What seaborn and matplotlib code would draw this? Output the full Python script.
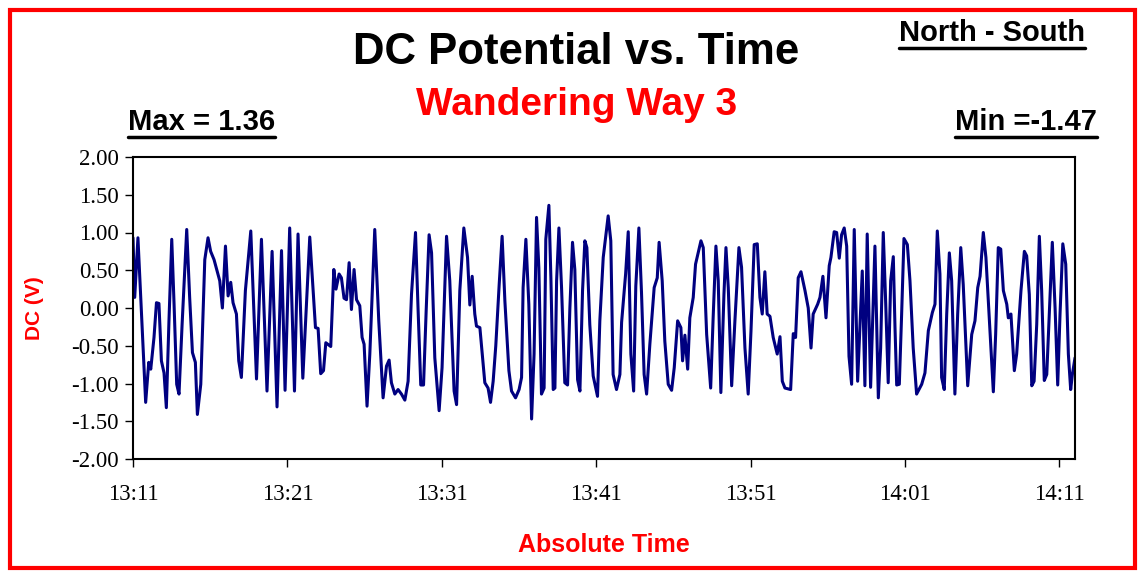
import pandas as pd
import matplotlib
matplotlib.use("Agg")
import matplotlib.pyplot as plt
import matplotlib.dates as mdates
import seaborn as sns
from matplotlib.patches import Rectangle
from matplotlib.lines import Line2D

# elapsed minutes after 13:11 and DC potential (V)
minutes = [
    0.00, 0.11, 0.32, 0.82, 1.02, 1.15, 1.36, 1.52, 1.68, 1.84, 2.01, 2.16, 2.33, 2.51, 2.66,
    2.83, 2.98, 3.18, 3.48, 3.67, 3.85, 4.04, 4.17, 4.39, 4.65, 4.86, 5.03, 5.25, 5.62, 5.79,
    5.99, 6.16, 6.33, 6.48, 6.70, 6.85, 7.02, 7.28, 7.63, 8.00, 8.32, 8.68, 9.01, 9.33, 9.62,
    9.85, 10.15, 10.46, 10.69, 11.00, 11.45, 11.66, 11.82, 11.99, 12.16, 12.34, 12.49, 12.81,
    13.01, 13.15, 13.35, 13.50, 13.67, 13.83, 14.00, 14.15, 14.32, 14.48, 14.69, 14.84, 14.97,
    15.16, 15.34, 15.66, 15.92, 16.20, 16.42, 16.59, 16.74, 16.96, 17.17, 17.39, 17.61, 17.82,
    18.04, 18.30, 18.47, 18.64, 18.82, 18.99, 19.18, 19.34, 19.55, 19.83, 20.02, 20.31, 20.52,
    20.80, 20.96, 21.17, 21.43, 21.67, 21.82, 21.97, 22.14, 22.25, 22.47, 22.62, 22.79, 23.00,
    23.16, 23.33, 23.50, 23.72, 23.91, 24.09, 24.35, 24.52, 24.78, 25.01, 25.17, 25.27, 25.45,
    25.64, 25.82, 25.98, 26.14, 26.29, 26.46, 26.63, 26.74, 26.94, 27.07, 27.22, 27.33, 27.44,
    27.59, 27.76, 27.97, 28.15, 28.30, 28.47, 28.62, 28.80, 28.95, 29.12, 29.27, 29.40, 29.59,
    29.81, 30.09, 30.24, 30.46, 30.78, 30.95, 31.10, 31.32, 31.54, 31.65, 31.91, 32.08, 32.25,
    32.43, 32.57, 32.77, 32.94, 33.11, 33.27, 33.48, 33.76, 33.96, 34.08, 34.28, 34.45, 34.67,
    34.89, 35.06, 35.28, 35.49, 35.60, 35.75, 35.93, 36.07, 36.29, 36.44, 36.79, 36.94, 37.16,
    37.42, 37.58, 37.76, 37.91, 38.08, 38.28, 38.41, 38.56, 38.78, 38.99, 39.25, 39.42, 39.64,
    39.85, 40.03, 40.24, 40.44, 40.61, 40.76, 40.93, 41.08, 41.26, 41.47, 41.73, 41.91, 42.06,
    42.23, 42.60, 42.77, 42.92, 43.09, 43.27, 43.53, 43.74, 43.92, 44.06, 44.35, 44.50, 44.69,
    44.89, 45.10, 45.21, 45.42, 45.58, 45.75, 45.90, 46.07, 46.23, 46.38, 46.55, 46.72, 46.94,
    47.24, 47.41, 47.56, 47.78, 48.06, 48.28, 48.43, 48.60, 48.76, 48.92, 49.08, 49.25, 49.36,
    49.47, 49.64, 49.79, 49.94, 50.16, 50.33, 50.54, 50.76, 51.09, 51.30, 51.52, 51.78, 51.95,
    52.10, 52.27, 52.38, 52.55, 52.71, 52.88, 53.03, 53.24, 53.42, 53.62, 53.78, 54.07, 54.33,
    54.54, 54.72, 54.87, 55.08, 55.25, 55.45, 55.73, 55.88, 56.05, 56.21, 56.38, 56.60, 56.70,
    56.87, 57.09, 57.24, 57.52, 57.74, 57.89, 58.06, 58.22, 58.37, 58.54, 58.71, 58.86, 59.03,
    59.19, 59.55, 59.73, 59.90, 60.05, 60.23, 60.42, 60.59, 60.74, 60.85, 61.02,
]
volts = [
    0.93, 0.14, 0.93, -1.25, -0.72, -0.81, -0.39, 0.07, 0.06, -0.70, -0.86, -1.32, -0.17, 0.91, 0.05,
    -1.01, -1.14, -0.22, 1.04, 0.14, -0.59, -0.72, -1.41, -1.01, 0.64, 0.93, 0.75, 0.64, 0.36, 0.00,
    0.82, 0.16, 0.34, 0.07, -0.08, -0.70, -0.92, 0.23, 1.02, -0.94, 0.91, -1.10, 0.75, -1.31, 0.76,
    -1.09, 1.06, -1.10, 0.98, -0.93, 0.94, 0.27, -0.26, -0.27, -0.87, -0.83, -0.46, -0.51,
    0.51, 0.25, 0.45, 0.40, 0.13, 0.11, 0.60, -0.02, 0.51, 0.11, 0.03, -0.39, -0.48,
    -1.30, -0.61, 1.04, -0.17, -1.19, -0.77, -0.69, -0.99, -1.14, -1.08, -1.14, -1.22, -0.97,
    0.18, 1.00, -0.04, -1.02, -1.02, -0.04, 0.97, 0.73, -0.66, -1.36, -0.79, 0.95, 0.36,
    -1.10, -1.28, 0.23, 1.06, 0.67, 0.04, 0.42, -0.08, -0.24, -0.26, -0.61, -0.99, -1.06,
    -1.25, -0.97, -0.50, 0.31, 0.95, 0.09, -0.83, -1.10, -1.19, -1.08, -0.92, 0.27, 0.91,
    0.05, -1.47, -0.61, 1.20, 0.53, -1.14, -1.06, 0.91, 1.36, 0.40, -1.08, -1.06, 0.36,
    1.06, 0.27, -0.99, -1.02, 0.00, 0.87, 0.51, -0.95, -1.10, 0.23, 0.89, 0.80, -0.22,
    -0.90, -1.17, -0.17, 0.67, 1.22, 0.89, -0.88, -1.08, -0.88, -0.19, 0.45, 1.01, -0.61,
    -1.10, 0.29, 1.06, 0.20, -0.88, -1.14, -0.48, 0.27, 0.40, 0.87, 0.36, -0.44, -1.01,
    -1.09, -0.79, -0.17, -0.26, -0.70, -0.36, -0.81, -0.13, 0.14, 0.58, 0.89, 0.80, -0.35,
    -1.06, -0.13, 0.82, 0.36, -1.12, 0.18, 0.80, 0.27, -1.03, -0.17, 0.80, 0.54, -0.53,
    -1.14, -0.31, 0.84, 0.85, 0.14, -0.08, 0.48, -0.08, -0.11, -0.39, -0.61, -0.38, -0.97,
    -1.06, -1.08, -0.34, -0.39, 0.40, 0.48, 0.23, 0.00, -0.53, -0.08, 0.05, 0.14, 0.42,
    -0.13, 0.56, 0.67, 1.01, 1.00, 0.66, 0.97, 1.06, 0.82, -0.64, -1.01, 1.04, -0.97,
    0.49, -1.03, 0.98, -1.05, 0.82, -1.19, -0.53, 1.00, 0.05, -0.99, 0.36, 0.68, -0.26,
    -1.02, -1.01, -0.08, 0.92, 0.84, 0.36, -0.53, -1.14, -1.01, -0.86, -0.30, -0.06, 0.05,
    1.02, 0.45, -0.92, -1.08, -0.08, 0.73, 0.36, -1.14, -0.08, 0.80, 0.31, -1.03, -0.35,
    -0.17, 0.27, 0.42, 1.00, 0.67, -0.08, -1.11, -0.35, 0.80, 0.78, 0.23, 0.05, -0.13,
    -0.08, -0.83, -0.61, 0.23, 0.75, 0.69, 0.18, -1.03, -0.97, -0.22, 0.95, 0.23, -0.96,
    -0.88, 0.87, 0.00, -1.02, -0.08, 0.85, 0.58, -0.61, -1.08, -0.88, -0.66,
]

start_time = "13:11"
y_ticks = [-2.0, -1.5, -1.0, -0.5, 0.0, 0.5, 1.0, 1.5, 2.0]

df = pd.DataFrame({
    "time": pd.Timestamp("2000-01-01 " + start_time) + pd.to_timedelta(minutes, unit="m"),
    "dc": volts,
})

sns.set_style("white")
plt.rcParams["font.family"] = ["Liberation Sans", "DejaVu Sans"]
plt.rcParams["text.color"] = "black"

fig = plt.figure(figsize=(11.38, 5.71), dpi=100)
ax = fig.add_axes([133 / 1138, 1 - 459 / 571, 942 / 1138, 302 / 571])

sns.lineplot(data=df, x="time", y="dc", ax=ax, color="#000080", linewidth=2.2)

ax.set_xlim(df["time"].iloc[0], df["time"].iloc[-1])
ax.set_ylim(-2, 2)
ax.set_yticks(y_ticks)
ax.yaxis.set_major_formatter(matplotlib.ticker.FormatStrFormatter("%.2f"))
ax.xaxis.set_major_locator(mdates.MinuteLocator(byminute=[1, 11, 21, 31, 41, 51]))
ax.xaxis.set_major_formatter(mdates.DateFormatter("%H:%M"))

for spine in ax.spines.values():
    spine.set_color("black")
    spine.set_linewidth(1.5)
ax.tick_params(axis="both", direction="out", length=6, width=1, color="black",
               labelcolor="black", labelsize=16.5, pad=4, bottom=True, left=True)
for lbl in ax.get_xticklabels() + ax.get_yticklabels():
    lbl.set_fontfamily(["Liberation Serif", "DejaVu Serif"])
ax.tick_params(axis="x", pad=12)

ax.set_xlabel("Absolute Time", color="red", fontsize=18, fontweight="bold", labelpad=20)
ax.set_ylabel("DC (V)", color="red", fontsize=15, fontweight="bold", labelpad=20)

# titles and corner notes
fig.text(576 / 1138, 1 - 53 / 571, "DC Potential vs. Time", ha="center", va="center",
         fontsize=31.5, fontweight="bold", color="black")
fig.text(577 / 1138, 1 - 105 / 571, "Wandering Way 3", ha="center", va="center",
         fontsize=28, fontweight="bold", color="red")
notes = [
    fig.text(1085 / 1138, 1 - 33 / 571, "North - South", ha="right", va="center",
             fontsize=21, fontweight="bold", color="black"),
    fig.text(128 / 1138, 1 - 122 / 571, "Max = 1.36", ha="left", va="center",
             fontsize=21, fontweight="bold", color="black"),
    fig.text(1097 / 1138, 1 - 122 / 571, "Min =-1.47", ha="right", va="center",
             fontsize=21, fontweight="bold", color="black"),
]

# red frame round the whole chart
fig.patches.append(Rectangle((10 / 1138, 3 / 571), 1125 / 1138, 558 / 571,
                             transform=fig.transFigure, fill=False,
                             edgecolor="red", linewidth=3))

# underline the corner notes
fig.canvas.draw()
renderer = fig.canvas.get_renderer()
inv = fig.transFigure.inverted()
for t in notes:
    bb = t.get_window_extent(renderer).transformed(inv)
    y = bb.y0 - 0.002
    fig.add_artist(Line2D([bb.x0, bb.x1], [y, y], transform=fig.transFigure,
                          color="black", linewidth=2.5))

fig.savefig("out.png", dpi=100)
